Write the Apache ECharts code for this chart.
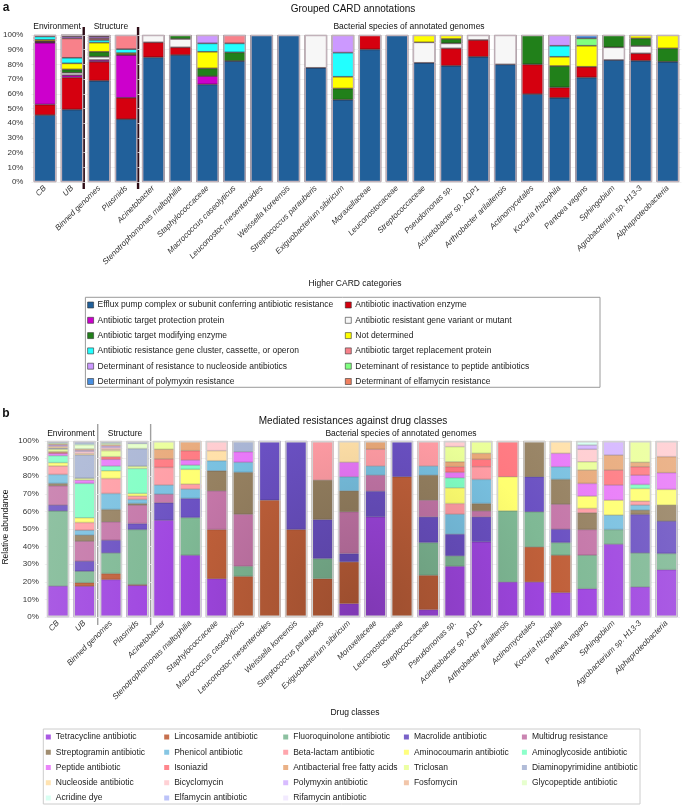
<!DOCTYPE html>
<html><head><meta charset="utf-8">
<script src="https://cdn.jsdelivr.net/npm/echarts@6/dist/echarts.min.js"></script>
<style>html,body{margin:0;padding:0;background:#fff}#c{width:685px;height:805px}</style>
</head><body><div id="c"></div>
<script>
// ---------- DATA ----------
const categories = ['CB','UB','Binned genomes','Plasmids','Acinetobacter','Stenotrophomonas maltophilia','Staphylococcaceae','Macrococcus caseolyticus','Leuconostoc mesenteroides','Weissella koreensis','Streptococcus parauberis','Exiguobacterium sibiricum','Moraxellaceae','Leuconostocaceae','Streptococcaceae','Pseudomonas sp.','Acinetobacter sp. ADP1','Arthrobacter arilaitensis','Actinomycetales','Kocuria rhizophila','Pantoea vagans','Sphingobium','Agrobacterium sp. H13-3','Alphaproteobacteria'];
const yTicks = ['0%','10%','20%','30%','40%','50%','60%','70%','80%','90%','100%'];

// Panel a: Higher CARD categories (stack order = legend order, row-wise)
const cardNames = ['Efflux pump complex or subunit conferring antibiotic resistance','Antibiotic inactivation enzyme','Antibiotic target protection protein','Antibiotic resistant gene variant or mutant','Antibiotic target modifying enzyme','Not determined','Antibiotic resistance gene cluster, cassette, or operon','Antibiotic target replacement protein','Determinant of resistance to nucleoside antibiotics','Deteminant of resistance to peptide antibiotics','Determinant of polymyxin resistance','Determinant of elfamycin resistance'];
const cardColors = ['#21609a','#d5000f','#cc00cc','#f7f7f7','#21801a','#ffff00','#22ffff','#f8818a','#cc99ff','#80ff80','#4a90e2','#f08060'];
const efflux      = [45.5,49.3,68.9,42.7,84.8,86.4,66.4,82.3,100,100,77.7,56.0,90.2,100,81.1,79.1,85.2,80.0,59.8,57.3,71.1,83.0,82.5,81.8];
const inactivation= [7.2,21.8,12.9,14.6,10.2,5.2,0,0,0,0,0,0,9.8,0,0,11.8,11.4,0,20.2,7.0,7.3,0,5.0,0];
const protection  = [42.0,1.6,1.2,29.1,0,0,5.6,0,0,0,0,0,0,0,0,0,0,0,0,0,0,0,0,0];
const variant     = [0.5,1.6,2.2,0,5.0,5.7,0,0,0,0,22.3,0,0,0,13.9,3.4,3.4,20.0,0,0,0,8.6,5.0,0];
const modifying   = [0.5,2.3,3.4,0.3,0,2.7,5.3,5.9,0,0,0,7.6,0,0,0,3.0,0,0,20.0,14.6,0,8.4,5.2,9.1];
const notDetermined=[1.0,4.1,6.2,1.0,0,0,11.3,0,0,0,0,8.0,0,0,5.0,2.7,0,0,0,6.3,14.3,0,2.3,9.1];
const cluster     = [2.3,3.8,1.8,2.7,0,0,5.7,6.1,0,0,0,16.4,0,0,0,0,0,0,0,7.5,0,0,0,0];
const replacement = [0.5,13.2,1.1,9.6,0,0,0,5.7,0,0,0,0,0,0,0,0,0,0,0,0,0,0,0,0];
const nucleosideA = [0.5,1.2,1.2,0,0,0,5.7,0,0,0,0,12.0,0,0,0,0,0,0,0,7.3,0,0,0,0];
const peptideA    = [0,0.5,0.3,0,0,0,0,0,0,0,0,0,0,0,0,0,0,0,0,0,5.0,0,0,0];
const polymyxinA  = [0,0.3,0.8,0,0,0,0,0,0,0,0,0,0,0,0,0,0,0,0,0,2.3,0,0,0];
const elfamycinA  = [0,0.3,0,0,0,0,0,0,0,0,0,0,0,0,0,0,0,0,0,0,0,0,0,0];
const cardValues = [efflux,inactivation,protection,variant,modifying,notDetermined,cluster,replacement,nucleosideA,peptideA,polymyxinA,elfamycinA];

// Panel b: Drug classes (stack order = legend order, row-wise)
const drugNames = ['Tetracycline antibiotic','Lincosamide antibiotic','Fluoroquinolone antibiotic','Macrolide antibiotic','Multidrug resistance','Streptogramin antibiotic','Phenicol antibiotic','Beta-lactam antibiotic','Aminocoumarin antibiotic','Aminoglycoside antibiotic','Peptide antibiotic','Isoniazid','Antibacterial free fatty acids','Triclosan','Diaminopyrimidine antibiotic','Nucleoside antibiotic','Bicyclomycin','Polymyxin antibiotic','Fosfomycin','Glycopeptide antibiotic','Acridine dye','Elfamycin antibiotic','Rifamycin antibiotic'];
const drugColors = ['#9f46e0','#c0603a','#7fb995','#6a50c2','#c476a8','#958060','#78c0e0','#ff9ca4','#ffff70','#80ffc4','#e878f8','#ff7880','#e8a878','#eaff98','#a8b4d4','#ffe0a8','#ffccd0','#d4b4ff','#f0c0a0','#e4ffc8','#d4fff0','#b4bcf8','#f0e8ff'];
const tetracycline = [17.6,17.5,21.3,18.0,55.0,35.1,21.8,0,0,0,0,7.6,56.9,0,4.2,28.8,42.7,19.9,19.9,13.9,16.1,41.4,17.1,26.9];
const lincosamide  = [0,2.0,3.4,0.4,0,0,27.9,23.1,66.4,49.7,21.8,23.7,0,79.7,19.5,0,0,0,19.9,21.2,0,0,0,0];
const fluoroquinolone=[42.7,6.5,11.7,31.3,0,21.4,0,5.7,0,0,11.4,0,0,0,18.6,5.9,0,40.4,20.0,7.2,19.0,8.3,19.3,9.2];
const macrolide    = [3.3,5.7,7.2,3.4,9.9,10.9,0,0,33.6,50.3,22.2,4.8,14.6,20.3,14.6,12.4,14.2,0,19.9,7.6,0,0,21.9,18.4];
const multidrug    = [11.0,11.4,10.5,10.5,4.9,0,22.0,29.6,0,0,0,23.7,9.1,0,9.5,0,3.4,0,0,14.2,14.6,0,0,0];
const streptogramin= [1.3,3.4,7.0,0.9,0,0,11.4,23.8,0,0,22.4,11.9,0,0,14.2,0,4.2,0,20.3,14.1,9.5,0,2.4,9.1];
const phenicol     = [5.1,2.8,9.1,2.3,5.2,5.3,5.7,5.7,0,0,0,8.0,5.2,0,5.2,11.3,13.7,0,0,7.2,0,8.2,2.9,0];
const betaLactam   = [4.8,4.4,8.5,1.9,10.0,2.8,0,0,0,0,22.2,0,9.5,0,14.2,6.1,7.2,0,0,0,2.5,0,2.2,0];
const aminocoumarin= [1.9,2.7,4.4,1.5,0,8.4,0,0,0,0,0,0,0,0,0,8.9,0,19.4,0,0,7.0,8.5,7.2,8.9];
const aminoglycoside=[4.0,19.5,2.7,14.2,0,2.4,0,0,0,0,0,0,0,0,0,5.7,0,0,0,0,0,0,2.3,0];
const peptide      = [1.3,1.9,3.8,0,0,2.9,0,6.0,0,0,0,8.2,0,0,0,3.1,0,0,0,7.6,7.2,8.6,5.3,9.5];
const isoniazid    = [0.4,0,1.5,0,4.8,5.3,0,0,0,0,0,0,0,0,0,3.2,4.2,20.3,0,0,0,8.5,4.8,0];
const fattyAcids   = [0.6,0,0,0,5.5,5.5,0,0,0,0,0,0,4.7,0,0,2.8,3.4,0,0,0,7.6,8.5,2.5,9.1];
const triclosan    = [1.4,1.0,3.4,1.3,4.7,0,0,0,0,0,0,0,0,0,0,8.6,7.0,0,0,0,4.7,0,12.1,0];
const diaminopyrimidine=[0.5,13.3,0,10.0,0,0,0,6.1,0,0,0,0,0,0,0,0,0,0,0,0,0,0,0,0];
const nucleoside   = [0.8,0.8,0.8,0,0,0,5.7,0,0,0,0,12.1,0,0,0,0,0,0,0,7.0,0,0,0,0];
const bicyclomycin = [0.6,1.2,1.0,0,0,0,5.5,0,0,0,0,0,0,0,0,3.2,0,0,0,0,7.1,0,0,8.9];
const polymyxin    = [0.5,0.6,0.8,0,0,0,0,0,0,0,0,0,0,0,0,0,0,0,0,0,2.4,8.0,0,0];
const fosfomycin   = [0.5,0.8,0.8,0,0,0,0,0,0,0,0,0,0,0,0,0,0,0,0,0,0,0,0,0];
const glycopeptide = [0.6,2.4,0.8,2.9,0,0,0,0,0,0,0,0,0,0,0,0,0,0,0,0,0,0,0,0];
const acridine     = [0.3,0.7,0.5,0,0,0,0,0,0,0,0,0,0,0,0,0,0,0,0,0,2.3,0,0,0];
const elfamycin    = [0.4,0.8,0.4,0.6,0,0,0,0,0,0,0,0,0,0,0,0,0,0,0,0,0,0,0,0];
const rifamycin    = [0.4,0.6,0.4,0.8,0,0,0,0,0,0,0,0,0,0,0,0,0,0,0,0,0,0,0,0];
const drugValues = [tetracycline,lincosamide,fluoroquinolone,macrolide,multidrug,streptogramin,phenicol,betaLactam,aminocoumarin,aminoglycoside,peptide,isoniazid,fattyAcids,triclosan,diaminopyrimidine,nucleoside,bicyclomycin,polymyxin,fosfomycin,glycopeptide,acridine,elfamycin,rifamycin];

// ---------- LAYOUT ----------
const FONT = '"Liberation Sans", Arial, sans-serif';
const GA = {left: 29.4, top: 35, width: 652, height: 147};
const GB = {left: 44.8, top: 441, width: 635, height: 176};
const N = categories.length;

function rgb(h){h=h.replace('#','');return [0,2,4].map(i=>parseInt(h.substr(i,2),16));}
function mix(h,t,a){const c=rgb(h),d=rgb(t);return 'rgb('+c.map((v,i)=>Math.round(v+(d[i]-v)*a)).join(',')+')';}
const nz = arr => arr.map(v => v === 0 ? null : v);

const chart = echarts.init(document.getElementById('c'), null, {renderer:'canvas'});

const series = [];
cardNames.forEach((n,i)=>{
  series.push({type:'bar', name:n, xAxisIndex:0, yAxisIndex:0, stack:'a', data:nz(cardValues[i]),
    barCategoryGap:'17%', barGap:'-100%', silent:true,
    itemStyle:{color:cardColors[i], borderColor:'rgba(40,15,25,0.9)', borderWidth:0.6}});
});
series.push({type:'bar', name:'frameA', xAxisIndex:0, yAxisIndex:0, data:categories.map(()=>100),
  barCategoryGap:'17%', barGap:'-100%', silent:true, z:3,
  itemStyle:{color:'rgba(0,0,0,0)', borderColor:'#c2b2ba', borderWidth:1.3}});

const cx = GB.left + GB.width/2, cy = GB.top + GB.height;
drugNames.forEach((n,i)=>{
  const c = drugColors[i];
  const grad = new echarts.graphic.RadialGradient(cx, cy, 430, [
    {offset:0, color:mix(c,'#000000',0.2)},
    {offset:0.45, color:c},
    {offset:1, color:mix(c,'#ffffff',0.22)}], true);
  series.push({type:'bar', name:n, xAxisIndex:1, yAxisIndex:1, stack:'b', data:nz(drugValues[i]),
    barCategoryGap:'17%', barGap:'-100%', silent:true,
    itemStyle:{color:grad, borderColor:mix(c,'#000000',0.3), borderWidth:0.5}});
});
series.push({type:'bar', name:'frameB', xAxisIndex:1, yAxisIndex:1, data:categories.map(()=>100),
  barCategoryGap:'17%', barGap:'-100%', silent:true, z:3,
  itemStyle:{color:'rgba(0,0,0,0)', borderColor:'#d2d2d2', borderWidth:1.4}});

function xAxis(gi){return {type:'category', gridIndex:gi, data:categories,
  axisLine:{show:false}, axisTick:{show:false},
  axisLabel:{interval:0, rotate:45, fontStyle:'italic', fontSize:8, color:'#333', fontFamily:FONT, margin:5}};}
function yAxis(gi){return {type:'value', gridIndex:gi, min:0, max:100, interval:10,
  axisLine:{show:false}, axisTick:{show:false},
  splitLine:{show:true, lineStyle:{color:'#eeeeee', width:0.8}},
  axisLabel:{formatter:(v)=>yTicks[Math.round(v/10)], fontSize:8, color:'#333', fontFamily:FONT, margin:gi===0?8:6}};}

// legends
const legends = [];
const legA = [[],[]];
cardNames.forEach((n,i)=>legA[i%2].push({name:n, itemStyle:{color:cardColors[i], borderColor:'#333', borderWidth:0.6}}));
[87.3, 345].forEach((lx,k)=>legends.push({data:legA[k], orient:'vertical', left:lx, top:300,
  itemWidth:6, itemHeight:6, itemGap:5.3, icon:'rect', selectedMode:false, padding:0,
  textStyle:{fontSize:8.5, color:'#222', fontFamily:FONT, lineHeight:10, padding:[0,0,0,-1]}}));
const legB = [[],[],[],[],[]];
drugNames.forEach((n,i)=>legB[i%5].push({name:n, itemStyle:{color:mix(drugColors[i],'#ffffff',0.1), borderWidth:0}}));
[45.8, 164.2, 283.2, 403.9, 521.9].forEach((lx,k)=>legends.push({data:legB[k], orient:'vertical', left:lx, top:732,
  itemWidth:5, itemHeight:5, itemGap:5.25, icon:'rect', selectedMode:false, padding:0,
  textStyle:{fontSize:8.5, color:'#222', fontFamily:FONT, lineHeight:10}}));

function txt(x,y,t,font,extra){return Object.assign({type:'text', x:x, y:y, silent:true,
  style:{text:t, font:font, fill:'#111', textAlign:'center', textVerticalAlign:'middle', align:'center', verticalAlign:'middle'}}, extra||{});}
const bx = (G,k)=>G.left + G.width*k/N;
const graphics = [
  txt(6,8,'a','bold 12px '+FONT),
  txt(353,9,'Grouped CARD annotations','10px '+FONT),
  txt((GA.left+bx(GA,2))/2+0.5,27,'Environment','8.5px '+FONT),
  txt((bx(GA,2)+bx(GA,4))/2,27,'Structure','8.5px '+FONT),
  txt(409,27,'Bacterial species of annotated genomes','8.5px '+FONT),
  {type:'line', silent:true, shape:{x1:bx(GA,2),y1:27,x2:bx(GA,2),y2:189}, style:{stroke:'#2e0c16', lineWidth:2.4}},
  {type:'line', silent:true, shape:{x1:bx(GA,4),y1:27,x2:bx(GA,4),y2:189}, style:{stroke:'#2e0c16', lineWidth:2.4}},
  txt(355,284,'Higher CARD categories','8.5px '+FONT),
  {type:'rect', silent:true, shape:{x:85.4,y:297.3,width:514.6,height:90}, style:{fill:'none', stroke:'#9a9a9a', lineWidth:1}},
  txt(6,414,'b','bold 12px '+FONT),
  txt(353,421.5,'Mediated resistances against drug classes','10px '+FONT),
  txt(71,433.5,'Environment','8.5px '+FONT),
  txt(125,433.5,'Structure','8.5px '+FONT),
  txt(401,433.5,'Bacterial species of annotated genomes','8.5px '+FONT),
  {type:'line', silent:true, shape:{x1:bx(GB,2),y1:424,x2:bx(GB,2),y2:625}, style:{stroke:'#a0a0a0', lineWidth:1.4}},
  {type:'line', silent:true, shape:{x1:bx(GB,4),y1:424,x2:bx(GB,4),y2:625}, style:{stroke:'#a0a0a0', lineWidth:1.4}},
  txt(6,527,'Relative abundance','8.5px '+FONT,{rotation:Math.PI/2}),
  txt(355,713,'Drug classes','8.5px '+FONT),
  {type:'rect', silent:true, shape:{x:43.3,y:729,width:596.7,height:75}, style:{fill:'none', stroke:'#cccccc', lineWidth:1}}
];

chart.setOption({
  animation:false,
  backgroundColor:'#ffffff',
  textStyle:{fontFamily:FONT},
  grid:[Object.assign({containLabel:false}, GA), Object.assign({containLabel:false}, GB)],
  xAxis:[xAxis(0), xAxis(1)],
  yAxis:[yAxis(0), yAxis(1)],
  legend:legends,
  series:series,
  graphic:graphics
});
</script></body></html>
